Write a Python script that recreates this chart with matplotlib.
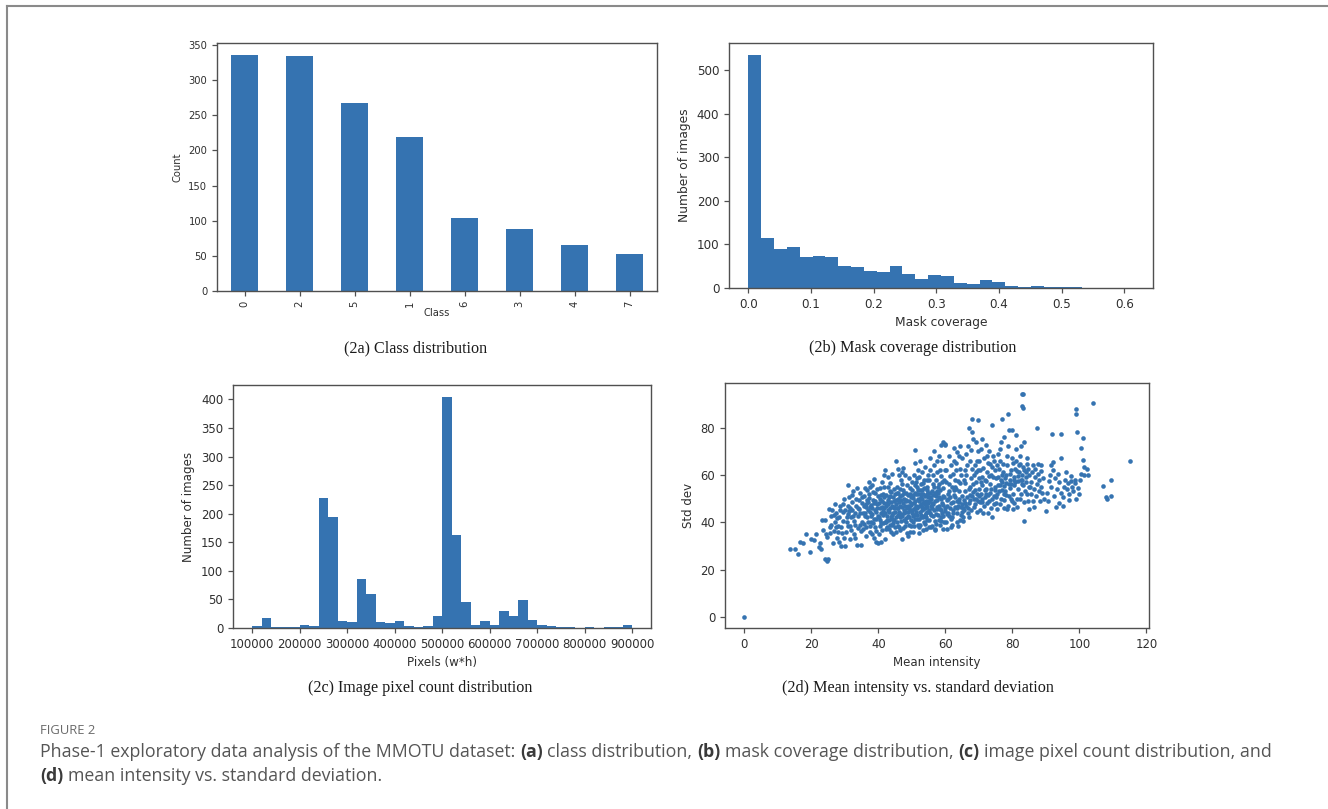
import numpy as np
import matplotlib
matplotlib.use("Agg")
import matplotlib.pyplot as plt
from matplotlib.lines import Line2D

W, H = 1328, 809
BLUE = "#3573b1"
SPINE = "#505050"
TICKTXT = "#2f2f2f"

# ---- (2a) class distribution ----
class_labels = ["0", "2", "5", "1", "6", "3", "4", "7"]
class_counts = [336, 335, 267, 219, 104, 88, 66, 53]

# ---- (2b) mask coverage histogram (30 equal bins) ----
coverage_range = (0.0, 0.615)
coverage_counts = [536, 116, 90, 94, 72, 74, 71, 50, 48, 40, 36, 51, 33, 21, 30,
                   28, 11, 10, 18, 13, 5, 3, 5, 2, 2, 2, 0, 1, 1, 1]

# ---- (2c) image pixel count histogram (40 equal bins) ----
pixel_range = (100000, 900000)
pixel_counts = [3, 17, 2, 1, 2, 6, 4, 228, 195, 12, 10, 86, 59, 10, 9, 13, 4, 2, 4, 21,
                405, 162, 45, 5, 13, 5, 29, 21, 49, 14, 5, 4, 1, 1, 0, 1, 0, 1, 1, 5]

# ---- (2d) per-image mean intensity vs. standard deviation ----
intensity_std_points = [
    (0.0, 0.0),
    (13.5, 28.6), (15.2, 28.8), (16.1, 26.6), (16.6, 31.6), (17.4, 31.2), (18.4, 35.1), (19.6, 27.3), (19.9, 33.0),
    (20.8, 32.5), (21.5, 34.8), (22.3, 29.5), (22.6, 31.2), (23.2, 41.0), (23.4, 36.5), (24.0, 40.8), (24.2, 24.4),
    (24.7, 23.8), (25.0, 24.6), (24.5, 35.0), (25.2, 45.6), (25.6, 38.0), (24.8, 33.8), (23.0, 28.6),
    (25.8, 42.5), (26.3, 45.2), (26.5, 31.0), (26.9, 36.2), (27.2, 40.1), (27.5, 44.0), (27.8, 33.5), (28.1, 38.6),
    (28.3, 42.0), (28.6, 47.0), (28.9, 29.8), (29.2, 35.5), (29.4, 40.5), (29.6, 44.5), (29.8, 50.0), (30.0, 30.0),
    (26.0, 39.0), (27.0, 47.5), (28.0, 36.0), (29.0, 38.0), (25.5, 35.5), (27.6, 41.8), (29.9, 33.2), (26.8, 43.0),
    (28.7, 45.2), (29.5, 47.8), (27.3, 37.9), (28.4, 31.6),
    (30.4, 36.0), (30.6, 40.0), (30.8, 43.5), (30.8, 55.8), (31.0, 47.0), (31.2, 50.5), (31.4, 33.0), (31.6, 38.2),
    (31.8, 42.0), (32.0, 45.0), (32.2, 48.6), (32.4, 53.0), (32.6, 35.0), (32.8, 40.5), (33.0, 44.0), (33.2, 47.0),
    (33.4, 50.0), (33.6, 30.4), (33.8, 37.5), (34.0, 42.5), (34.2, 45.5), (34.4, 52.5), (34.6, 39.0), (34.8, 30.4),
    (35.0, 48.0), (30.2, 45.2), (31.1, 44.6), (32.5, 42.6), (33.1, 38.9), (33.9, 46.2), (34.5, 43.8), (32.1, 51.3),
    (30.9, 38.6), (33.5, 54.5), (31.5, 46.0), (34.9, 36.2), (32.9, 33.4), (31.9, 36.8), (34.3, 49.2), (30.5, 42.0),
    (35.2, 40.0), (35.4, 44.0), (35.6, 46.8), (35.8, 51.0), (36.0, 54.5), (36.2, 34.0), (36.4, 38.0), (36.6, 42.0),
    (36.8, 45.0), (37.0, 48.5), (37.2, 52.0), (37.4, 55.0), (37.6, 36.0), (37.8, 40.0), (38.0, 43.5), (38.2, 46.0),
    (38.4, 49.5), (38.6, 58.2), (38.8, 33.5), (39.0, 38.0), (39.2, 41.5), (39.4, 44.5), (39.6, 47.5), (39.8, 51.0),
    (40.0, 31.0), (35.5, 37.0), (36.5, 49.2), (37.5, 44.2), (38.5, 39.8), (39.5, 54.0), (35.9, 42.5), (36.9, 40.2),
    (37.9, 47.2), (38.9, 45.0), (39.9, 42.8), (36.3, 46.5), (37.3, 50.3), (38.3, 52.6), (39.3, 36.2), (35.1, 50.8),
    (37.1, 57.0), (38.1, 35.0), (39.1, 49.0), (36.1, 44.0), (37.7, 42.6), (38.7, 41.2), (39.7, 45.9), (35.7, 39.2),
    (36.7, 53.4), (39.4, 31.5), (38.2, 55.8), (37.4, 38.3),
    (40.2, 35.0), (40.4, 38.5), (40.6, 41.0), (40.8, 44.0), (41.0, 46.5), (41.2, 49.0), (41.4, 52.0), (41.6, 55.0),
    (41.8, 59.8), (42.0, 33.0), (42.2, 37.0), (42.4, 40.0), (42.6, 42.5), (42.8, 45.0), (43.0, 47.5), (43.2, 50.5),
    (43.4, 53.0), (43.6, 56.5), (43.8, 36.0), (44.0, 39.0), (44.2, 41.5), (44.4, 44.0), (44.6, 46.5), (44.8, 49.0),
    (45.0, 52.0), (45.2, 66.0), (40.1, 48.0), (40.7, 51.5), (41.3, 43.0), (41.9, 40.0), (42.5, 48.0), (43.1, 44.5),
    (43.7, 42.0), (44.3, 50.5), (44.9, 38.0), (40.5, 54.5), (41.1, 36.5), (41.7, 46.0), (42.3, 51.5), (42.9, 55.0),
    (43.5, 39.0), (44.1, 47.0), (44.7, 54.0), (40.3, 42.0), (40.9, 31.5), (41.5, 39.5), (42.1, 44.0), (42.7, 38.0),
    (43.3, 41.0), (43.9, 48.5), (44.5, 35.0), (42.0, 62.0), (43.0, 59.0), (44.0, 60.5), (41.0, 57.0), (42.8, 49.5),
    (44.2, 43.0), (40.6, 46.0), (43.6, 51.0), (41.6, 50.5), (42.4, 46.8), (43.2, 37.0), (44.6, 41.0), (40.8, 39.5),
    (45.0, 44.5),
    (45.4, 36.0), (45.6, 40.0), (45.8, 43.0), (46.0, 46.0), (46.2, 48.5), (46.4, 51.0), (46.6, 54.0), (46.8, 58.0),
    (47.0, 61.0), (47.2, 33.0), (47.4, 37.5), (47.6, 41.0), (47.8, 44.0), (48.0, 47.0), (48.2, 49.5), (48.4, 52.5),
    (48.6, 55.5), (48.8, 34.0), (49.0, 39.0), (49.2, 42.0), (49.4, 45.0), (49.6, 48.0), (49.8, 50.5), (50.0, 53.5),
    (50.0, 57.0), (45.3, 47.5), (45.9, 50.0), (46.5, 42.0), (47.1, 46.5), (47.7, 50.0), (48.3, 40.0), (48.9, 47.0),
    (49.5, 52.0), (45.7, 55.0), (46.3, 38.0), (46.9, 43.5), (47.5, 53.5), (48.1, 44.5), (48.7, 42.5), (49.3, 36.0),
    (49.9, 44.0), (46.1, 44.5), (46.7, 49.5), (47.3, 48.0), (47.9, 38.5), (48.5, 46.0), (49.1, 49.0), (49.7, 41.0),
    (45.5, 52.5), (46.3, 60.0), (47.5, 63.0), (48.0, 60.0), (49.0, 58.5), (47.0, 56.0), (45.8, 62.5), (48.6, 35.5),
    (46.8, 40.5), (49.4, 54.5), (45.2, 42.0), (47.6, 45.2), (48.4, 49.0), (46.0, 52.5), (49.2, 46.5), (47.0, 51.5),
    (45.6, 46.0), (48.8, 51.5),
    (50.2, 36.0), (50.4, 40.0), (50.6, 43.0), (50.8, 46.0), (51.0, 49.0), (51.2, 52.0), (51.4, 55.0), (51.6, 58.5),
    (51.8, 62.0), (52.0, 38.0), (52.2, 41.5), (52.4, 44.5), (52.6, 47.5), (52.8, 50.5), (53.0, 53.5), (53.2, 56.5),
    (53.4, 36.5), (53.6, 40.0), (53.8, 43.0), (54.0, 46.0), (54.2, 49.0), (54.4, 52.0), (54.6, 55.0), (54.8, 60.0),
    (55.0, 38.0), (51.0, 70.6), (50.5, 48.0), (51.1, 44.5), (51.7, 50.0), (52.3, 53.5), (52.9, 45.0), (53.5, 48.5),
    (54.1, 42.0), (54.7, 50.5), (50.3, 51.5), (50.9, 55.5), (51.5, 41.5), (52.1, 47.0), (52.7, 56.0), (53.3, 42.0),
    (53.9, 51.0), (54.5, 46.5), (50.7, 38.5), (51.3, 47.0), (51.9, 53.5), (52.5, 39.0), (53.1, 50.0), (53.7, 54.5),
    (54.3, 44.0), (54.9, 48.0), (50.1, 45.0), (52.0, 59.0), (53.0, 61.0), (54.0, 63.5), (52.5, 66.0), (51.0, 65.0),
    (54.5, 58.0), (50.6, 60.0), (53.6, 58.0), (52.2, 35.5), (54.2, 37.0), (51.4, 43.0), (52.4, 50.0), (53.4, 45.5),
    (54.4, 41.0), (50.8, 52.5), (51.8, 39.0), (52.8, 43.0), (53.8, 47.5), (54.8, 52.5), (51.2, 57.0), (52.6, 52.0),
    (53.2, 48.0), (50.4, 42.5), (54.6, 44.5),
    (55.2, 41.0), (55.4, 44.0), (55.6, 47.0), (55.8, 50.0), (56.0, 53.0), (56.2, 56.0), (56.4, 60.0), (56.6, 64.0),
    (56.8, 37.0), (57.0, 40.5), (57.2, 43.5), (57.4, 46.5), (57.6, 49.5), (57.8, 52.5), (58.0, 56.0), (58.2, 68.0),
    (58.4, 39.0), (58.6, 42.0), (58.8, 45.0), (59.0, 48.0), (59.2, 51.0), (59.4, 54.5), (59.6, 58.0), (59.8, 62.0),
    (59.2, 73.8), (59.8, 73.2), (60.0, 72.8), (58.8, 72.5), (55.5, 67.0), (56.5, 70.0), (57.5, 66.0), (58.5, 62.0),
    (55.1, 58.0), (56.1, 48.0), (57.1, 51.0), (58.1, 47.0), (59.1, 44.0), (55.7, 38.0), (56.7, 45.0), (57.7, 55.0),
    (58.7, 50.0), (59.7, 40.0), (55.3, 52.5), (56.3, 42.5), (57.3, 58.0), (58.3, 53.5), (59.3, 37.0), (55.9, 46.0),
    (56.9, 49.0), (57.9, 43.0), (58.9, 57.0), (59.9, 46.0), (55.4, 62.0), (57.6, 61.0), (59.0, 66.0), (56.0, 38.5),
    (57.0, 36.5), (58.0, 41.0), (59.5, 50.5), (56.6, 55.0), (58.4, 45.5), (55.0, 49.0), (57.4, 53.0), (59.4, 42.5),
    (56.2, 51.5), (58.6, 59.5),
    (60.2, 40.0), (60.4, 43.5), (60.6, 47.0), (60.8, 50.0), (61.0, 53.0), (61.2, 56.0), (61.4, 59.5), (61.6, 64.0),
    (61.8, 38.0), (62.0, 42.0), (62.2, 45.0), (62.4, 48.5), (62.6, 51.5), (62.8, 55.0), (63.0, 58.0), (63.2, 62.0),
    (63.4, 40.0), (63.6, 44.0), (63.8, 47.0), (64.0, 50.0), (64.2, 53.0), (64.4, 56.5), (64.6, 60.0), (64.8, 43.0),
    (65.0, 47.5), (61.0, 68.0), (62.5, 71.5), (63.5, 69.5), (64.5, 72.0), (60.5, 37.0), (61.5, 46.0), (62.5, 53.5),
    (63.5, 49.0), (64.5, 41.0), (60.3, 57.0), (61.3, 50.5), (62.3, 60.5), (63.3, 54.0), (64.3, 62.5), (60.9, 44.0),
    (61.9, 55.0), (62.9, 46.5), (63.9, 57.5), (64.9, 51.0), (60.7, 52.0), (61.7, 41.5), (62.7, 66.0), (63.7, 38.5),
    (64.7, 46.5), (60.1, 62.0), (62.1, 39.0), (63.1, 65.0), (64.1, 68.0),
    (65.2, 42.0), (65.4, 46.0), (65.6, 49.5), (65.8, 53.0), (66.0, 56.5), (66.2, 60.0), (66.4, 64.0), (66.6, 72.0),
    (66.8, 44.0), (67.0, 48.0), (67.2, 51.5), (67.4, 55.0), (67.6, 58.5), (67.8, 62.5), (67.0, 80.0), (68.0, 83.5),
    (68.2, 75.0), (68.4, 46.5), (68.6, 50.0), (68.8, 53.5), (69.0, 57.0), (69.2, 61.0), (69.4, 66.0), (69.6, 70.0),
    (69.8, 49.0), (70.0, 54.0), (69.0, 74.0), (68.0, 78.0), (65.5, 58.0), (66.5, 50.5), (67.5, 45.0), (68.5, 60.0),
    (69.5, 44.5), (65.3, 40.5), (66.3, 47.0), (67.3, 66.0), (68.3, 56.0), (69.3, 52.0), (65.9, 62.0), (66.9, 54.0),
    (67.9, 51.0), (68.9, 64.0), (69.9, 58.5), (65.1, 67.0), (66.1, 69.0), (67.7, 70.5), (69.7, 62.0), (65.7, 45.0),
    (67.1, 42.0), (68.7, 47.5), (69.8, 83.0),
    (70.2, 45.0), (70.4, 48.5), (70.6, 52.0), (70.8, 55.5), (71.0, 59.0), (71.2, 63.0), (71.4, 67.0), (71.6, 47.0),
    (71.8, 50.5), (72.0, 54.0), (72.2, 57.5), (72.4, 61.0), (72.6, 65.0), (72.8, 44.0), (73.0, 49.0), (73.2, 52.5),
    (73.4, 56.0), (73.6, 60.0), (73.8, 42.4), (73.9, 81.1), (74.0, 63.5), (74.2, 68.0), (74.4, 47.5), (74.6, 51.0),
    (74.8, 55.0), (75.0, 58.5), (70.5, 71.0), (72.0, 72.5), (71.0, 75.0), (73.0, 70.0), (70.3, 62.0), (71.3, 44.0),
    (72.3, 48.0), (73.3, 64.5), (74.3, 59.0), (70.9, 50.0), (71.9, 58.0), (72.9, 59.5), (73.9, 50.0), (74.9, 53.5),
    (70.7, 57.0), (71.7, 53.5), (72.7, 51.5), (73.7, 46.0), (74.7, 62.0), (70.1, 66.0), (72.5, 68.0), (74.5, 66.0),
    (75.2, 48.0), (75.4, 52.0), (75.6, 55.5), (75.8, 59.0), (76.0, 62.5), (76.2, 66.0), (76.4, 71.0), (76.6, 50.0),
    (76.8, 53.5), (77.0, 57.0), (77.2, 61.0), (77.0, 83.8), (77.4, 46.0), (77.6, 49.5), (77.8, 53.0), (78.0, 56.5),
    (78.2, 60.0), (78.4, 64.0), (78.7, 85.8), (78.6, 72.0), (78.8, 47.0), (79.0, 51.0), (79.2, 54.5), (79.4, 58.0),
    (79.6, 62.0), (79.8, 67.0), (78.9, 79.0), (79.9, 79.0), (77.5, 76.0), (80.0, 49.0), (75.5, 64.0), (76.5, 58.0),
    (77.5, 52.0), (78.5, 45.5), (79.5, 50.0), (75.3, 45.5), (76.3, 47.5), (77.3, 64.5), (78.3, 68.0), (79.3, 60.5),
    (75.9, 53.0), (76.9, 60.0), (77.9, 58.5), (79.7, 56.0), (75.7, 69.0), (76.7, 74.0), (78.1, 51.5),
    (80.2, 52.0), (80.4, 55.5), (80.6, 59.0), (80.8, 62.5), (81.0, 66.0), (81.2, 71.0), (81.4, 50.0), (81.6, 54.0),
    (81.8, 57.5), (82.0, 61.0), (82.2, 64.5), (82.4, 68.0), (82.6, 52.0), (82.8, 56.0), (82.9, 94.2), (83.3, 94.2),
    (82.9, 88.9), (83.2, 88.2), (83.0, 60.0), (83.2, 63.5), (83.4, 40.3), (83.4, 74.0), (83.6, 48.5), (83.8, 53.0),
    (84.0, 57.0), (84.2, 61.0), (84.4, 64.5), (84.6, 49.0), (84.8, 55.0), (85.0, 60.0), (80.5, 48.0), (81.5, 61.5),
    (82.5, 58.0), (83.5, 62.0), (84.5, 52.0), (80.3, 65.0), (81.3, 46.5), (82.3, 50.0), (83.3, 55.5), (84.3, 67.0),
    (80.9, 57.0), (81.9, 64.0), (82.7, 72.0), (84.7, 62.5), (81.1, 77.0), (80.1, 45.5), (85.0, 45.5),
    (85.4, 52.0), (85.6, 57.0), (85.8, 61.0), (86.0, 64.0), (86.2, 49.0), (86.4, 54.0), (86.6, 59.0), (86.8, 62.5),
    (87.0, 51.0), (87.2, 80.0), (87.4, 56.0), (87.6, 64.5), (87.8, 53.0), (88.0, 58.0), (88.2, 49.0), (88.4, 61.5),
    (88.6, 55.0), (88.8, 52.5), (89.0, 58.5), (89.9, 44.8), (86.5, 46.5), (87.5, 60.5), (88.5, 64.0), (85.2, 55.0),
    (89.5, 50.0),
    (90.4, 52.5), (90.8, 57.5), (91.2, 60.0), (91.6, 55.0), (91.9, 77.3), (92.0, 65.5), (92.4, 51.0), (92.8, 58.5),
    (93.0, 46.3), (93.2, 54.0), (93.6, 60.5), (94.0, 48.0), (94.4, 77.3), (94.4, 67.3), (94.6, 52.5), (95.0, 47.0),
    (92.2, 62.0), (93.8, 57.0), (90.6, 49.0), (91.4, 64.0),
    (95.4, 55.0), (95.8, 58.0), (96.2, 54.0), (96.6, 56.5), (97.0, 52.0), (97.4, 57.5), (97.8, 55.0), (98.2, 53.0),
    (98.6, 58.0), (99.0, 50.0), (99.1, 87.7), (99.1, 85.6), (99.4, 78.0), (99.6, 54.5), (99.8, 52.0), (96.0, 61.0),
    (97.6, 59.5), (98.8, 56.5), (95.2, 50.5), (96.8, 49.5),
    (100.5, 71.5), (101.2, 75.5), (101.0, 66.3), (101.5, 63.5), (100.5, 60.5), (101.3, 60.0), (102.6, 59.8),
    (103.9, 90.3), (102.2, 62.5), (115.0, 65.9), (106.9, 55.1), (109.4, 57.9), (107.8, 50.8), (109.3, 51.0),
    (108.2, 50.0), (100.2, 58.0),
    # densest part of the cloud
    (36.2, 47.8), (37.6, 46.4), (38.6, 48.0), (39.0, 52.5), (40.4, 50.0), (41.4, 44.8), (41.8, 48.2), (42.6, 40.8),
    (43.4, 46.2), (43.8, 52.8), (44.4, 39.6), (44.8, 45.8), (45.4, 49.2), (45.8, 38.6), (46.4, 46.8), (46.6, 36.8),
    (47.2, 42.6), (47.8, 52.2), (48.2, 41.8), (48.8, 44.2), (49.6, 38.2), (49.8, 47.4), (50.2, 50.2), (50.6, 45.4),
    (51.0, 41.2), (51.6, 46.0), (51.8, 51.8), (52.2, 49.0), (52.6, 42.2), (53.0, 46.6), (53.4, 51.8), (53.8, 39.2),
    (54.2, 47.2), (54.6, 53.8), (55.0, 45.0), (55.4, 50.8), (55.8, 43.2), (56.4, 47.6), (56.8, 52.2), (57.2, 39.4),
    (57.6, 45.6), (58.2, 50.8), (58.8, 40.6), (59.4, 47.4), (60.0, 44.6), (60.6, 49.2), (61.2, 42.8), (61.8, 48.0),
    (62.4, 44.0), (63.0, 50.8), (63.6, 46.0), (64.2, 48.4), (65.0, 44.2), (65.8, 48.2), (66.6, 46.0), (67.4, 49.4),
    (68.2, 52.8), (69.0, 49.8), (70.0, 51.2), (71.0, 48.6), (72.2, 52.0), (73.6, 54.2), (75.0, 50.6), (76.2, 55.6),
    (77.6, 55.4), (79.0, 56.0), (80.4, 58.0), (81.6, 59.4), (83.0, 57.8), (84.2, 59.0),
]
mean_intensity = [p[0] for p in intensity_std_points]
std_dev = [p[1] for p in intensity_std_points]

panel_captions = ["(2a) Class distribution", "(2b) Mask coverage distribution",
                  "(2c) Image pixel count distribution", "(2d) Mean intensity vs. standard deviation"]
figure_label = "FIGURE 2"
caption_lines = [
    [("Phase-1 exploratory data analysis of the MMOTU dataset:", False), ("(a)", True),
     ("class distribution,", False), ("(b)", True), ("mask coverage distribution,", False),
     ("(c)", True), ("image pixel count distribution, and", False)],
    [("(d)", True), ("mean intensity vs. standard deviation.", False)],
]

fig = plt.figure(figsize=(W / 100, H / 100), dpi=100)
fig.patch.set_facecolor("white")


def px_axes(left, top, right, bottom):
    return fig.add_axes([left / W, 1 - bottom / H, (right - left) / W, (bottom - top) / H])


def style(ax, size):
    for s in ax.spines.values():
        s.set_color(SPINE)
        s.set_linewidth(1.0)
    ax.tick_params(colors=SPINE, labelcolor=TICKTXT, labelsize=size, width=0.9, length=3.5)
    ax.xaxis.label.set_color(TICKTXT)
    ax.yaxis.label.set_color(TICKTXT)


# (2a)
ax = px_axes(217, 43, 657, 291)
pos = np.arange(len(class_labels))
ax.bar(pos, class_counts, width=0.5, color=BLUE)
ax.set_xlim(-0.5, len(class_labels) - 0.5)
ax.set_xticks(pos)
ax.set_xticklabels(class_labels, rotation=90)
ax.set_yticks(np.arange(0, 351, 50))
ax.set_xlabel("Class", fontsize=7.2, labelpad=1)
ax.set_ylabel("Count", fontsize=7.2)
style(ax, 7.2)

# (2b)
ax = px_axes(729, 43, 1153, 288)
edges = np.linspace(coverage_range[0], coverage_range[1], len(coverage_counts) + 1)
ax.hist(edges[:-1], bins=edges, weights=coverage_counts, color=BLUE)
ax.set_xticks(np.arange(0, 0.61, 0.1))
ax.set_xticklabels([f"{v:.1f}" for v in np.arange(0, 0.61, 0.1)])
ax.set_yticks(np.arange(0, 501, 100))
ax.set_xlabel("Mask coverage", fontsize=8.8)
ax.set_ylabel("Number of images", fontsize=8.8)
style(ax, 8.6)

# (2c)
ax = px_axes(233, 385, 651, 628)
edges = np.linspace(pixel_range[0], pixel_range[1], len(pixel_counts) + 1)
ax.hist(edges[:-1], bins=edges, weights=pixel_counts, color=BLUE)
ticks = np.arange(100000, 900001, 100000)
ax.set_xticks(ticks)
ax.set_xticklabels([str(t) for t in ticks])
ax.set_yticks(np.arange(0, 401, 50))
ax.set_xlabel("Pixels (w*h)", fontsize=8.6)
ax.set_ylabel("Number of images", fontsize=8.6)
style(ax, 8.5)

# (2d)
ax = px_axes(725, 383, 1149, 628)
ax.scatter(mean_intensity, std_dev, s=11, color=BLUE, linewidths=0)
ax.set_xlim(-5.75, 120.75)
ax.set_ylim(-4.7, 98.8)
ax.set_xticks(np.arange(0, 121, 20))
ax.set_yticks(np.arange(0, 81, 20))
ax.set_xlabel("Mean intensity", fontsize=8.5)
ax.set_ylabel("Std dev", fontsize=8.5)
style(ax, 8.4)

# sub-figure captions
for text, (cx, by) in zip(panel_captions, [(416, 352), (913, 352), (420, 692), (918, 692)]):
    fig.text(cx / W, 1 - by / H, text, ha="center", va="baseline",
             family="Liberation Serif", fontsize=11.6, color="#1a1a1a")

# outer frame (top and left rules)
fig.add_artist(Line2D([7 / W, 1.0], [1 - 6 / H, 1 - 6 / H], transform=fig.transFigure,
                      color="#8a8a8a", lw=1.5))
fig.add_artist(Line2D([7 / W, 7 / W], [1 - 6 / H, 0.0], transform=fig.transFigure,
                      color="#8a8a8a", lw=1.5))

# figure caption
fig.text(40 / W, 1 - 734 / H, figure_label, ha="left", va="baseline",
         family="Open Sans", fontsize=9.4, color="#6a6a6a")

renderer = fig.canvas.get_renderer()
CAP_SIZE = 12.8
probe_a = fig.text(0, 0, "x x", family="Open Sans", fontsize=CAP_SIZE)
probe_b = fig.text(0, 0, "xx", family="Open Sans", fontsize=CAP_SIZE)
space_px = probe_a.get_window_extent(renderer).width - probe_b.get_window_extent(renderer).width
probe_a.remove()
probe_b.remove()

for line, base in zip(caption_lines, [757, 781]):
    x = 40.0
    for i, (chunk, bold) in enumerate(line):
        t = fig.text(x / W, 1 - base / H, chunk, ha="left", va="baseline", family="Open Sans",
                     fontsize=CAP_SIZE, fontweight="bold" if bold else "normal",
                     color="#3a3a3a" if bold else "#555555")
        x += t.get_window_extent(renderer).width + space_px

fig.savefig("out.png", dpi=100, facecolor="white")
